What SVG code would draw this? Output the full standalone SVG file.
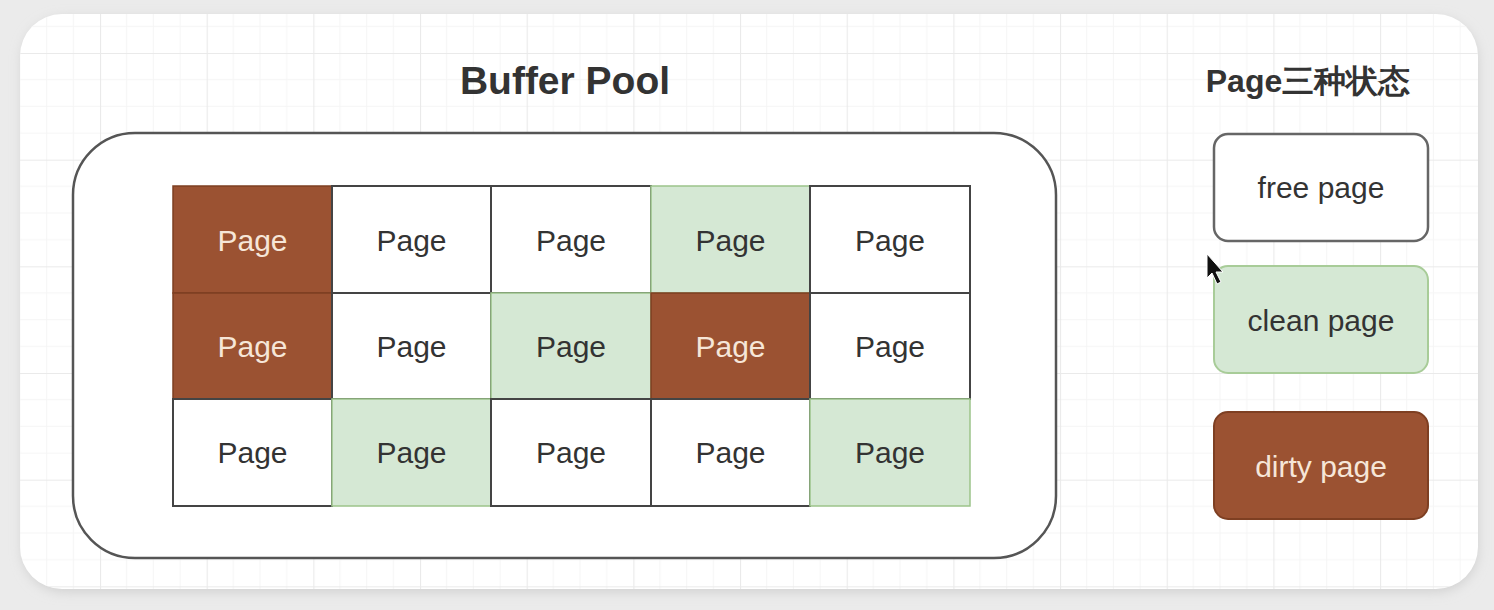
<svg xmlns="http://www.w3.org/2000/svg" width="1494" height="610" viewBox="0 0 1494 610">
  <defs>
    <pattern id="grid" patternUnits="userSpaceOnUse" x="100" y="53" width="106.67" height="106.67">
      <path d="M26.67 0V106.67M53.33 0V106.67M80 0V106.67M0 26.67H106.67M0 53.33H106.67M0 80H106.67" stroke="#f5f5f5" stroke-width="1" fill="none"/>
      <path d="M0.5 0V106.67M0 0.5H106.67" stroke="#eaeaea" stroke-width="1.2" fill="none"/>
    </pattern>
    <filter id="sh" x="-5%" y="-5%" width="110%" height="110%">
      <feGaussianBlur stdDeviation="6"/>
    </filter>
    <style>
      .lbl { font-family: "Liberation Sans", Arial, sans-serif; font-size: 30px; fill: #333333; text-anchor: middle; dominant-baseline: central; }
      .lbl-d { fill: #f6e6d8; }
      .free { fill: #ffffff; stroke: #444444; stroke-width: 2; }
      .clean { fill: #d5e8d4; stroke: #9cc48a; stroke-width: 1.5; }
      .dirty { fill: #9b5232; stroke: #7e3f22; stroke-width: 1.5; }
      .title { font-family: "Liberation Sans", Arial, sans-serif; font-weight: bold; fill: #333333; text-anchor: middle; }
    </style>
  </defs>

  <rect x="0" y="0" width="1494" height="610" fill="#ebebeb"/>
  <rect x="22" y="18" width="1456" height="574" rx="42" fill="#d0d0d0" filter="url(#sh)"/>
  <rect x="20" y="14" width="1458" height="575" rx="42" fill="#ffffff"/>
  <rect x="20" y="14" width="1458" height="575" rx="42" fill="url(#grid)"/>

  <text id="title" class="title" x="565" y="94" font-size="39">Buffer Pool</text>

  <g id="buffer-pool">
    <rect x="73" y="133" width="983" height="425" rx="62" fill="#ffffff" stroke="#555555" stroke-width="2.5"/>
  </g>

  <g id="pages">
    <g id="p11"><rect class="dirty" x="173" y="186" width="159" height="107"/><text class="lbl lbl-d" x="252.5" y="240">Page</text></g>
    <g id="p12"><rect class="free" x="332" y="186" width="159" height="107"/><text class="lbl" x="411.5" y="240">Page</text></g>
    <g id="p13"><rect class="free" x="491" y="186" width="160" height="107"/><text class="lbl" x="571" y="240">Page</text></g>
    <g id="p14"><rect class="clean" x="651" y="186" width="159" height="107"/><text class="lbl" x="730.5" y="240">Page</text></g>
    <g id="p15"><rect class="free" x="810" y="186" width="160" height="107"/><text class="lbl" x="890" y="240">Page</text></g>

    <g id="p21"><rect class="dirty" x="173" y="293" width="159" height="106"/><text class="lbl lbl-d" x="252.5" y="346">Page</text></g>
    <g id="p22"><rect class="free" x="332" y="293" width="159" height="106"/><text class="lbl" x="411.5" y="346">Page</text></g>
    <g id="p23"><rect class="clean" x="491" y="293" width="160" height="106"/><text class="lbl" x="571" y="346">Page</text></g>
    <g id="p24"><rect class="dirty" x="651" y="293" width="159" height="106"/><text class="lbl lbl-d" x="730.5" y="346">Page</text></g>
    <g id="p25"><rect class="free" x="810" y="293" width="160" height="106"/><text class="lbl" x="890" y="346">Page</text></g>

    <g id="p31"><rect class="free" x="173" y="399" width="159" height="107"/><text class="lbl" x="252.5" y="452">Page</text></g>
    <g id="p32"><rect class="clean" x="332" y="399" width="159" height="107"/><text class="lbl" x="411.5" y="452">Page</text></g>
    <g id="p33"><rect class="free" x="491" y="399" width="160" height="107"/><text class="lbl" x="571" y="452">Page</text></g>
    <g id="p34"><rect class="free" x="651" y="399" width="159" height="107"/><text class="lbl" x="730.5" y="452">Page</text></g>
    <g id="p35"><rect class="clean" x="810" y="399" width="160" height="107"/><text class="lbl" x="890" y="452">Page</text></g>
  </g>

  <text id="legend-title" class="title" x="1308" y="92" font-size="32" font-family="'Liberation Sans', 'Noto Sans CJK SC', sans-serif">Page三种状态</text>

  <g id="legend-free">
    <rect x="1214" y="134" width="214" height="107" rx="14" fill="#ffffff" stroke="#666666" stroke-width="2.5"/>
    <text class="lbl" x="1321" y="187">free page</text>
  </g>
  <g id="legend-clean">
    <rect x="1214" y="266" width="214" height="107" rx="14" fill="#d5e8d4" stroke="#a8cc98" stroke-width="2"/>
    <text class="lbl" x="1321" y="320">clean page</text>
  </g>
  <g id="legend-dirty">
    <rect x="1214" y="412" width="214" height="107" rx="14" fill="#9b5232" stroke="#7e3f22" stroke-width="2"/>
    <text class="lbl lbl-d" x="1321" y="466">dirty page</text>
  </g>

  <g id="connectors"></g>

  <path d="M1207 254 L1207 278 L1212 273 L1217 284 L1221 282 L1216 272 L1223 272 Z" fill="#111111" stroke="#ffffff" stroke-width="1"/>
</svg>
